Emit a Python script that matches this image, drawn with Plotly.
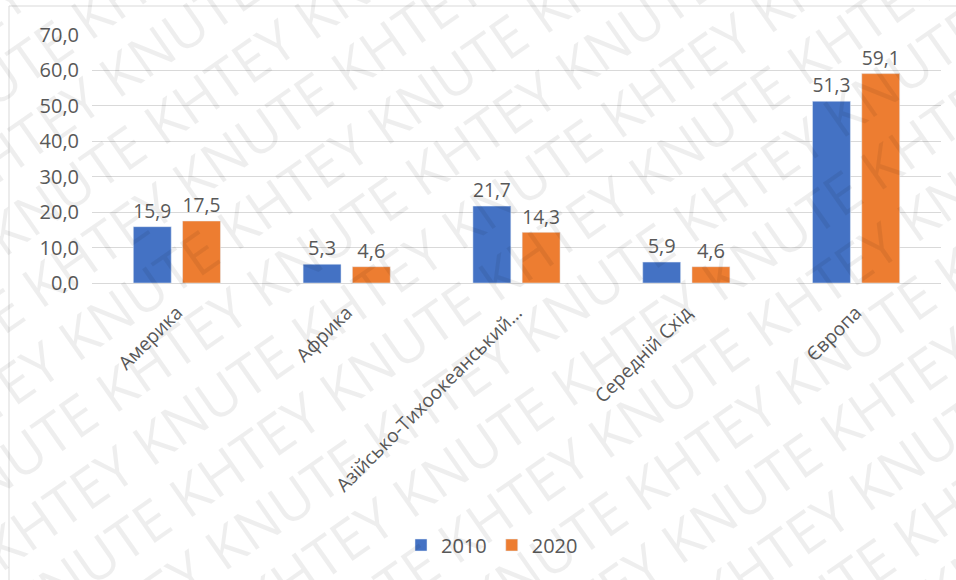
import math
import plotly.graph_objects as go

# Regions and their values for the two years
regions = ["Америка", "Африка", "Азійсько-Тихоокеанський…", "Середній Схід", "Європа"]
values_2010 = [15.9, 5.3, 21.7, 5.9, 51.3]
values_2020 = [17.5, 4.6, 14.3, 4.6, 59.1]
y_ticks = [0, 10, 20, 30, 40, 50, 60, 70]

BLUE = "#4472C4"
ORANGE = "#ED7D31"
TEXT = "#595959"
FONT = "Open Sans"

fig = go.Figure()
for name, vals, color in [("2010", values_2010, BLUE), ("2020", values_2020, ORANGE)]:
    fig.add_trace(go.Bar(
        x=regions, y=vals, name=name, marker_color=color,
        text=[f"{v:.1f}".replace(".", ",") for v in vals],
        textposition="outside", cliponaxis=False,
        textfont=dict(family=FONT, size=20, color=TEXT),
    ))

# Plot geometry in pixels (used to place the watermark grid and frame)
W, H = 956, 580
L, R, T, B = 92, 15, 35, 297
pw, ph = W - L - R, H - T - B

def to_paper(px, py):
    return (px - L) / pw, (H - B - py) / ph

# Diagonal "KHTEY KNUTE" watermark
angle = 35
rad = math.radians(angle)
nx, ny = math.sin(rad), math.cos(rad)
spacing = 64
cx, cy = 478, 290
for k in range(-10, 11):
    px, py = cx + k * spacing * nx, cy + k * spacing * ny
    xp, yp = to_paper(px, py)
    word = "KHTEY KNUTE " if k % 2 == 0 else "KNUTE KHTEY "
    fig.add_annotation(
        x=xp, y=yp, xref="paper", yref="paper",
        text=(word * 4).strip(), showarrow=False, textangle=-angle,
        font=dict(family=FONT, size=56, color="rgba(0,0,0,0.065)"),
        xanchor="center", yanchor="middle",
    )

# Chart frame: top and left edges
x_left, y_top = to_paper(9, 6)
x_right, _ = to_paper(W + 5, 0)
_, y_bottom = to_paper(0, H + 5)
fig.add_shape(type="line", xref="paper", yref="paper",
              x0=x_left, y0=y_top, x1=x_right, y1=y_top,
              line=dict(color="#D9D9D9", width=1), layer="below")
fig.add_shape(type="line", xref="paper", yref="paper",
              x0=x_left, y0=y_top, x1=x_left, y1=y_bottom,
              line=dict(color="#D9D9D9", width=1), layer="below")

fig.update_layout(
    width=W, height=H,
    margin=dict(l=L, r=R, t=T, b=B, pad=0),
    paper_bgcolor="white", plot_bgcolor="white",
    separators=", ",
    barmode="group", bargap=0.42, bargroupgap=0.23,
    font=dict(family=FONT, color=TEXT),
    showlegend=True,
    legend=dict(orientation="h", x=(492 - L) / pw, y=(H - B - 545) / ph,
                xanchor="center", yanchor="middle",
                font=dict(family=FONT, size=20, color=TEXT),
                itemwidth=30, traceorder="normal"),
    xaxis=dict(tickangle=-45, tickfont=dict(family=FONT, size=19, color=TEXT),
               showline=False, showgrid=False,
               ticks="outside", ticklen=10, tickcolor="rgba(0,0,0,0)"),
    yaxis=dict(range=[0, 70], tickvals=y_ticks, tickformat=".1f",
               tickfont=dict(family=FONT, size=20, color=TEXT),
               showgrid=True, gridcolor="#D9D9D9", gridwidth=1,
               zeroline=True, zerolinecolor="#D9D9D9", zerolinewidth=1,
               showline=False, ticks="outside", ticklen=8, tickcolor="rgba(0,0,0,0)"),
)

fig.write_html("out.html")
